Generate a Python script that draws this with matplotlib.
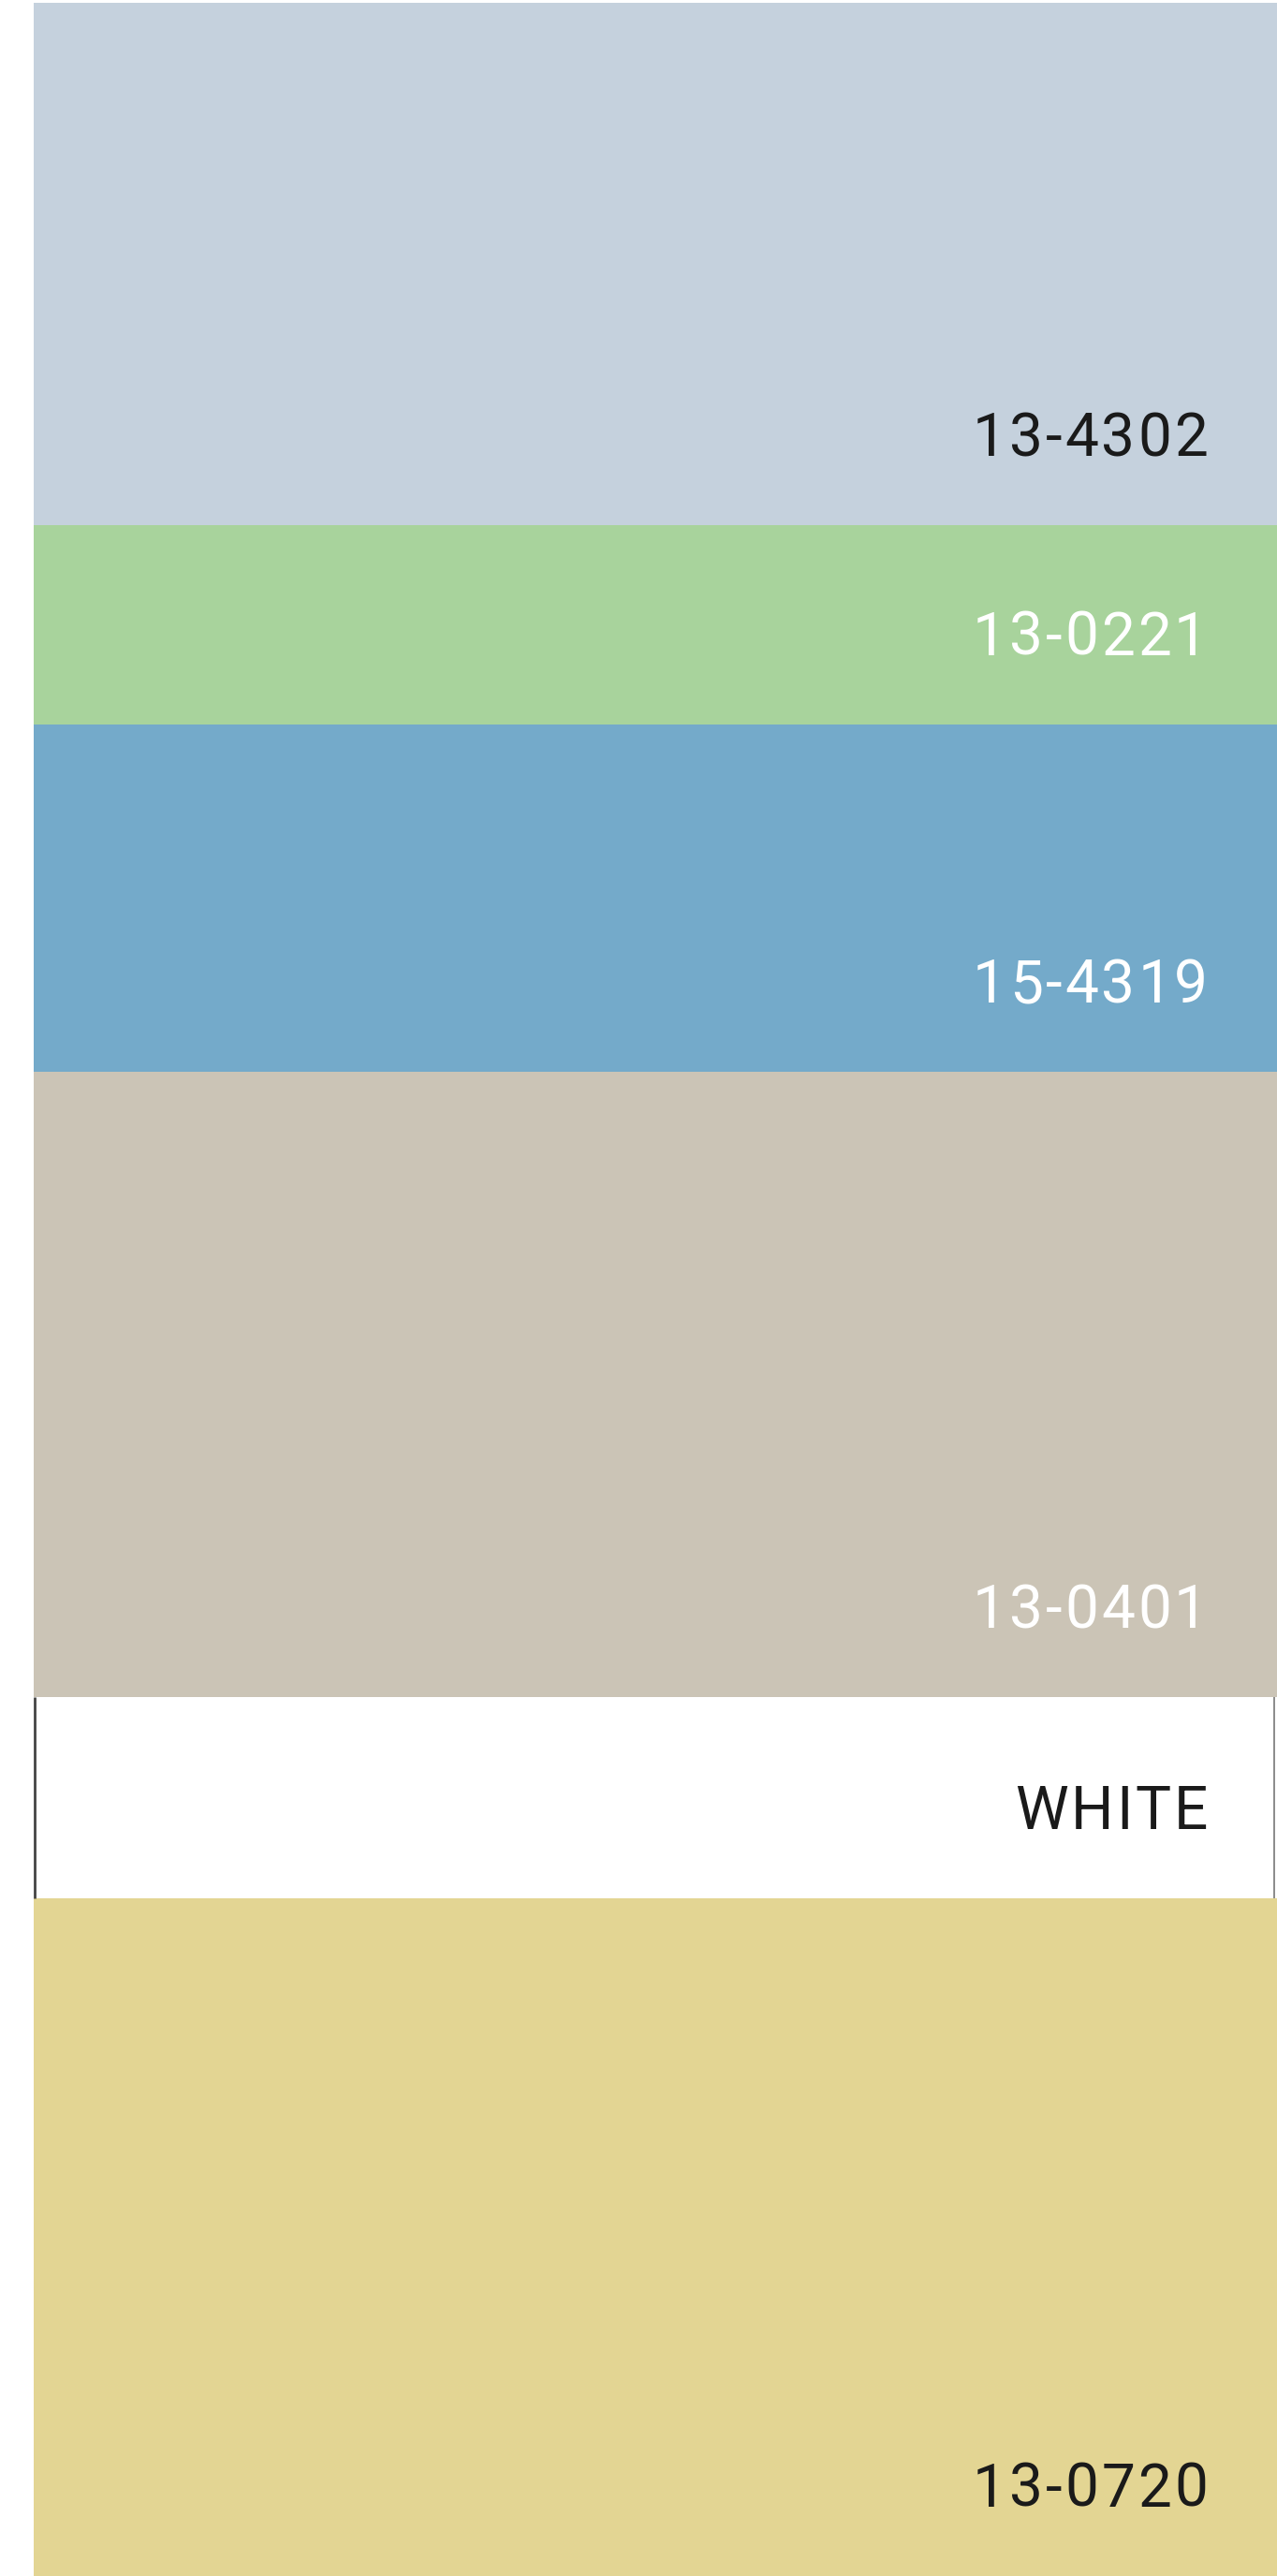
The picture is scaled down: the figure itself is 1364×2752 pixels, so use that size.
import matplotlib
matplotlib.use("Agg")
import matplotlib.pyplot as plt
from matplotlib.font_manager import FontProperties, findfont
from matplotlib.ft2font import FT2Font

# Palette data (top to bottom)
codes = ["13-4302", "13-0221", "15-4319", "13-0401", "WHITE", "13-0720"]
band_heights = [558, 213, 371, 668, 215, 724]
band_colors = ["#C5D1DD", "#A8D39C", "#74AACA", "#CBC4B6", "#FFFFFF", "#E3D593"]
label_colors = ["#1A1A1A", "#FFFFFF", "#FFFFFF", "#FFFFFF", "#1A1A1A", "#1A1A1A"]

W, H = 1364, 2752
DPI = 100
fig = plt.figure(figsize=(W / DPI, H / DPI), dpi=DPI)
fig.patch.set_facecolor("white")

left_px, top_px = 36, 3
ax = fig.add_axes([left_px / W, 0, 1 - left_px / W, (H - top_px) / H])
total = sum(band_heights)
ax.set_xlim(0, W - left_px)
ax.set_ylim(total, 0)
ax.axis("off")

bottoms = []
acc = 0
for h in band_heights:
    bottoms.append(acc)
    acc += h

ax.bar([0] * len(band_heights), band_heights, bottom=bottoms, width=W - left_px,
       align="edge", color=band_colors, linewidth=0)

# thin border around the white band (left and right sides)
for i, c in enumerate(codes):
    if c == "WHITE":
        y0, y1 = bottoms[i], bottoms[i] + band_heights[i]
        ax.vlines([1], y0, y1, color="#444444", linewidth=2.0)
        ax.vlines([W - left_px - 3], y0, y1, color="#777777", linewidth=1.2)

# letter-spaced labels
fsize = 46
tracking = 3.0  # px between characters
fp = FontProperties(family="Roboto", size=fsize)
ft = FT2Font(findfont(fp))
ft.set_size(fsize, DPI)


def advance(ch):
    g = ft.load_char(ord(ch))
    return g.linearHoriAdvance / 65536.0


text_right = 1290 - left_px
for i, c in enumerate(codes):
    yb = bottoms[i] + band_heights[i] - 74
    advs = [advance(ch) for ch in c]
    width = sum(advs) + tracking * (len(c) - 1)
    x = text_right - width
    for ch, a in zip(c, advs):
        ax.text(x, yb, ch, ha="left", va="baseline", fontproperties=fp,
                color=label_colors[i])
        x += a + tracking

fig.savefig("out.png", dpi=DPI, facecolor="white")
